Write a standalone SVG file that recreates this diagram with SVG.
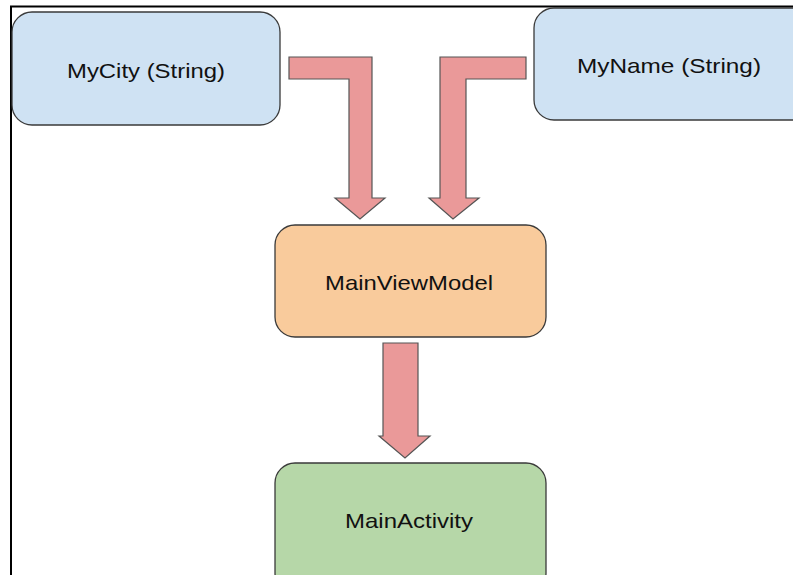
<svg xmlns="http://www.w3.org/2000/svg" width="793" height="575" viewBox="0 0 793 575">
<style>
.box{stroke:#3a3a3a;stroke-width:1.3}
.arr{fill:#ea9999;stroke:#555;stroke-width:1.2;stroke-linejoin:miter}
text{font-family:"Liberation Sans",Arial,sans-serif;font-size:21px;fill:#111;text-anchor:middle}
</style>
<rect width="793" height="575" fill="#fff"/>
<g id="frame">
<line x1="11" y1="6" x2="11" y2="575" stroke="#000" stroke-width="2"/>
<line x1="10" y1="6.5" x2="793" y2="6.5" stroke="#000" stroke-width="2"/>
</g>
<g id="connectors">
<path class="arr" d="M289,57 H372 V198 H385 L360,219 L335,198 H349 V79 H289 Z"/>
<path class="arr" d="M526,57 H440 V198 H429 L453,219 L479,198 H466 V79 H526 Z"/>
<path class="arr" d="M383,343 H418 V436 H430 L405,458 L379,436 H383 Z"/>
</g>
<g id="mycity">
<rect class="box" x="12" y="12" width="268" height="113" rx="20" fill="#cfe2f3"/>
<text x="146" y="78" textLength="158" lengthAdjust="spacingAndGlyphs">MyCity (String)</text>
</g>
<g id="myname">
<rect class="box" x="534" y="8" width="280" height="112" rx="20" fill="#cfe2f3"/>
<text x="669" y="73" textLength="184" lengthAdjust="spacingAndGlyphs">MyName (String)</text>
</g>
<g id="mainviewmodel">
<rect class="box" x="275" y="225" width="271" height="112" rx="20" fill="#f9cb9c"/>
<text x="409" y="290" textLength="168" lengthAdjust="spacingAndGlyphs">MainViewModel</text>
</g>
<g id="mainactivity">
<rect class="box" x="275" y="463" width="271" height="130" rx="20" fill="#b6d7a8"/>
<text x="409" y="528" textLength="128" lengthAdjust="spacingAndGlyphs">MainActivity</text>
</g>
</svg>
